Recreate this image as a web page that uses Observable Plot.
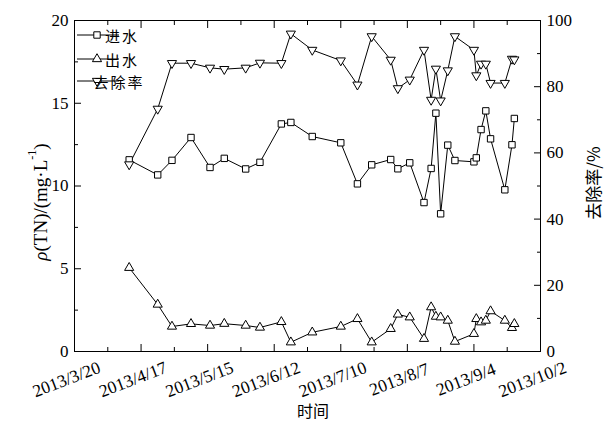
<!DOCTYPE html>
<html>
<head>
<meta charset="utf-8">
<script src="https://cdn.jsdelivr.net/npm/d3@7"></script>
<script src="https://cdn.jsdelivr.net/npm/@observablehq/plot@0.6"></script>
<style>
  html, body { margin: 0; padding: 0; background: #fff; }
  #chart svg { display: block; }
</style>
</head>
<body>
<div id="chart"></div>
<script>
// Sampling dates (2013)
const dates = [
  "2013-04-12", "2013-04-24", "2013-04-30", "2013-05-08", "2013-05-16", "2013-05-22",
  "2013-05-31", "2013-06-06", "2013-06-15", "2013-06-19", "2013-06-28", "2013-07-10",
  "2013-07-17", "2013-07-23", "2013-07-31", "2013-08-03", "2013-08-08", "2013-08-14",
  "2013-08-17", "2013-08-19", "2013-08-21", "2013-08-24", "2013-08-27", "2013-09-04",
  "2013-09-05", "2013-09-07", "2013-09-09", "2013-09-11", "2013-09-17", "2013-09-20",
  "2013-09-21"
];
// Influent TN, mg/L
const influent = [
  11.58, 10.67, 11.55, 12.93, 11.12, 11.67, 11.03, 11.43, 13.75, 13.84, 12.99, 12.61,
  10.13, 11.28, 11.60, 11.04, 11.40, 9.00, 11.06, 14.40, 8.32, 12.47, 11.54, 11.46,
  11.70, 13.41, 14.54, 12.85, 9.77, 12.49, 14.08
];
// Effluent TN, mg/L
const effluent = [
  5.06, 2.84, 1.51, 1.67, 1.57, 1.68, 1.57, 1.45, 1.79, 0.56, 1.16, 1.51,
  1.97, 0.56, 1.37, 2.24, 2.07, 0.77, 2.68, 2.11, 2.07, 1.87, 0.60, 1.07,
  1.97, 1.77, 1.87, 2.44, 1.87, 1.43, 1.67
];
// TN removal rate, %
const removal = [
  56.5, 73.3, 87.1, 87.1, 85.7, 85.3, 85.7, 87.2, 87.1, 96.0, 91.1, 87.9,
  80.6, 95.2, 88.1, 79.5, 82.1, 91.1, 76.0, 85.4, 75.8, 84.9, 95.2, 91.1,
  83.4, 86.9, 86.9, 81.1, 81.1, 88.4, 88.2
];

const xTicks = ["2013-03-20", "2013-04-17", "2013-05-15", "2013-06-12", "2013-07-10", "2013-08-07", "2013-09-04", "2013-10-02"];
const xTickLabels = ["2013/3/20", "2013/4/17", "2013/5/15", "2013/6/12", "2013/7/10", "2013/8/7", "2013/9/4", "2013/10/2"];
const xMinorTicks = ["2013-04-03", "2013-05-01", "2013-05-29", "2013-06-26", "2013-07-24", "2013-08-21", "2013-09-18"];
const leftTicks = [0, 5, 10, 15, 20];
const leftMinorTicks = [2.5, 7.5, 12.5, 17.5];
const rightTicks = [0, 20, 40, 60, 80, 100];
const rightMinorTicks = [10, 30, 50, 70, 90];
const seriesNames = ["进水", "出水", "去除率"];

const parse = d3.utcParse("%Y-%m-%d");
// The removal rate (0–100 %) shares the concentration scale (0–20 mg/L)
const rateToY = r => r * 20 / 100;

const rows = dates.map((d, i) => ({
  date: parse(d), inf: influent[i], eff: effluent[i], rate: rateToY(removal[i])
}));
const xt = xTicks.map(parse);
const xm = xMinorTicks.map(parse);

const serif = "'Liberation Serif', 'Times New Roman', serif";
const cjk = "'Noto Sans CJK SC', sans-serif";

const chart = Plot.plot({
  width: 608,
  height: 421,
  marginLeft: 74,
  marginRight: 68,
  marginTop: 20,
  marginBottom: 70,
  style: { fontFamily: serif, fontSize: "17px", color: "#000", background: "#fff" },
  x: { type: "utc", domain: [xt[0], xt[xt.length - 1]] },
  y: { domain: [0, 20] },
  marks: [
    // left axis
    Plot.axisY({ anchor: "left", ticks: leftTicks, tickSize: 0, tickPadding: 6, label: null, fontSize: 17 }),
    Plot.axisY({ anchor: "left", ticks: leftTicks, tickSize: -7, fill: "none", label: null }),
    Plot.axisY({ anchor: "left", ticks: leftMinorTicks, tickSize: -4, fill: "none", label: null }),
    // right axis (removal rate)
    Plot.axisY({ anchor: "right", ticks: rightTicks.map(rateToY), tickFormat: (v, i) => String(rightTicks[i]),
                 tickSize: 0, tickPadding: 6, label: null, fontSize: 17 }),
    Plot.axisY({ anchor: "right", ticks: rightTicks.map(rateToY), tickSize: -7, fill: "none", label: null }),
    Plot.axisY({ anchor: "right", ticks: rightMinorTicks.map(rateToY), tickSize: -4, fill: "none", label: null }),
    // bottom and top ticks
    Plot.axisX({ anchor: "bottom", ticks: xt, tickSize: -7, fill: "none", label: null }),
    Plot.axisX({ anchor: "bottom", ticks: xm, tickSize: -4, fill: "none", label: null }),
    Plot.axisX({ anchor: "top", ticks: xt, tickSize: -7, fill: "none", label: null }),
    Plot.axisX({ anchor: "top", ticks: xm, tickSize: -4, fill: "none", label: null }),
    Plot.text(xt, { x: d => d, text: (d, i) => xTickLabels[i], frameAnchor: "bottom", dy: 28, dx: -8,
                    rotate: -21, textAnchor: "middle", lineAnchor: "middle", fontSize: 17.5 }),
    Plot.frame({ stroke: "#000", strokeWidth: 1 }),
    // series
    Plot.line(rows, { x: "date", y: "inf", stroke: "#000", strokeWidth: 1 }),
    Plot.line(rows, { x: "date", y: "eff", stroke: "#000", strokeWidth: 1 }),
    Plot.line(rows, { x: "date", y: "rate", stroke: "#000", strokeWidth: 1 }),
    Plot.dot(rows, { x: "date", y: "inf", symbol: "square", r: 3.6, fill: "#fff", stroke: "#000", strokeWidth: 1 }),
    Plot.dot(rows, { x: "date", y: "eff", symbol: "triangle", r: 3.4, fill: "#fff", stroke: "#000", strokeWidth: 1 }),
    Plot.dot(rows, { x: "date", y: "rate", symbol: "triangle", rotate: 180, r: 3.4, fill: "#fff", stroke: "#000", strokeWidth: 1 })
  ]
});

document.getElementById("chart").appendChild(chart);

// Titles and legend
const svg = d3.select(chart);

const yTitle = svg.append("text")
  .attr("transform", "translate(40,202) rotate(-90)")
  .attr("text-anchor", "middle")
  .attr("dominant-baseline", "central")
  .style("font-family", serif)
  .style("font-size", "19px")
  .attr("fill", "#000");
yTitle.append("tspan").style("font-style", "italic").text("ρ");
yTitle.append("tspan").text("(TN)/(mg·L");
yTitle.append("tspan").attr("dy", -8).style("font-size", "12px").text("-1");
yTitle.append("tspan").attr("dy", 8).text(")");

svg.append("text")
  .attr("transform", "translate(592,183) rotate(-90)")
  .attr("text-anchor", "middle")
  .attr("dominant-baseline", "central")
  .style("font-family", cjk)
  .style("font-size", "17px")
  .attr("fill", "#000")
  .text("去除率/%");

svg.append("text")
  .attr("x", 313).attr("y", 410)
  .attr("text-anchor", "middle")
  .attr("dominant-baseline", "central")
  .style("font-family", cjk)
  .style("font-size", "16px")
  .attr("fill", "#000")
  .text("时间");

const legendY = [35, 59, 81];
const legendSymbols = [
  { type: d3.symbolSquare, size: Math.PI * 3.6 * 3.6, rot: 0 },
  { type: d3.symbolTriangle, size: Math.PI * 3.4 * 3.4, rot: 0 },
  { type: d3.symbolTriangle, size: Math.PI * 3.4 * 3.4, rot: 180 }
];
const legend = svg.append("g");
seriesNames.forEach((name, i) => {
  const y = legendY[i];
  legend.append("line").attr("x1", 77).attr("x2", 119).attr("y1", y).attr("y2", y)
    .attr("stroke", "#000").attr("stroke-width", 1);
  legend.append("path")
    .attr("d", d3.symbol(legendSymbols[i].type, legendSymbols[i].size)())
    .attr("transform", `translate(97,${y}) rotate(${legendSymbols[i].rot})`)
    .attr("fill", "#fff").attr("stroke", "#000");
  legend.append("text")
    .attr("x", i === 2 ? 119 : 122).attr("y", y)
    .attr("dominant-baseline", "central")
    .style("font-family", cjk)
    .style("font-size", "15px")
    .style("letter-spacing", "2px")
    .attr("fill", "#000")
    .text(name);
});
</script>
</body>
</html>
